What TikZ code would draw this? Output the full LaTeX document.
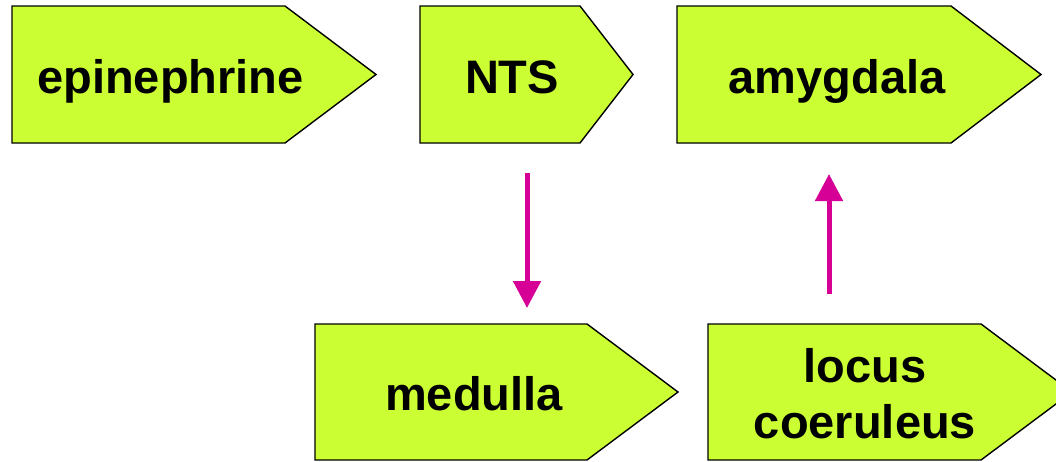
\documentclass[tikz,border=0pt]{standalone}
\usepackage{fontspec}
\setmainfont{Liberation Sans}
\usepackage{xcolor}
\usetikzlibrary{arrows.meta}

\definecolor{limefill}{RGB}{204,255,51}
\definecolor{linkpink}{RGB}{214,0,150}

\begin{document}
\begin{tikzpicture}[x=1pt,y=-1pt, line join=miter,
    box/.style={draw=black, fill=limefill, line width=1.4pt},
    tag/.style={font=\bfseries\fontsize{47}{56}\selectfont, anchor=base, align=center, inner sep=0pt},
    link/.style={linkpink, line width=5pt, -{Triangle[width=27pt,length=27pt]}}]
    \useasboundingbox (0,0) rectangle (1056,461);

    % Top row
    \draw[box] (12,6) -- (285,6) -- (376,74.5) -- (285,143) -- (12,143) -- cycle;
    \node[tag] (epi) at (170.5,93) {epinephrine};

    \draw[box] (420,6) -- (580,6) -- (633,74.5) -- (580,143) -- (420,143) -- cycle;
    \node[tag] (nts) at (512,93) {NTS};

    \draw[box] (677,6) -- (951,6) -- (1041,74.5) -- (951,143) -- (677,143) -- cycle;
    \node[tag] (amy) at (837,93) {amygdala};

    % Bottom row
    \draw[box] (315,324) -- (587,324) -- (678,392) -- (587,460) -- (315,460) -- cycle;
    \node[tag] (med) at (474,410) {medulla};

    \draw[box] (708,324) -- (981,324) -- (1072,392) -- (981,460) -- (708,460) -- cycle;
    \node[tag] (loc) at (865,438) {locus\\coeruleus};

    % Connectors
    \coordinate (ntsout) at (527,173);
    \coordinate (medin) at (527,308);
    \coordinate (locout) at (829,294);
    \coordinate (amyin) at (829,174);
    \draw[link] (ntsout) -- (medin);
    \draw[link] (locout) -- (amyin);
\end{tikzpicture}
\end{document}
